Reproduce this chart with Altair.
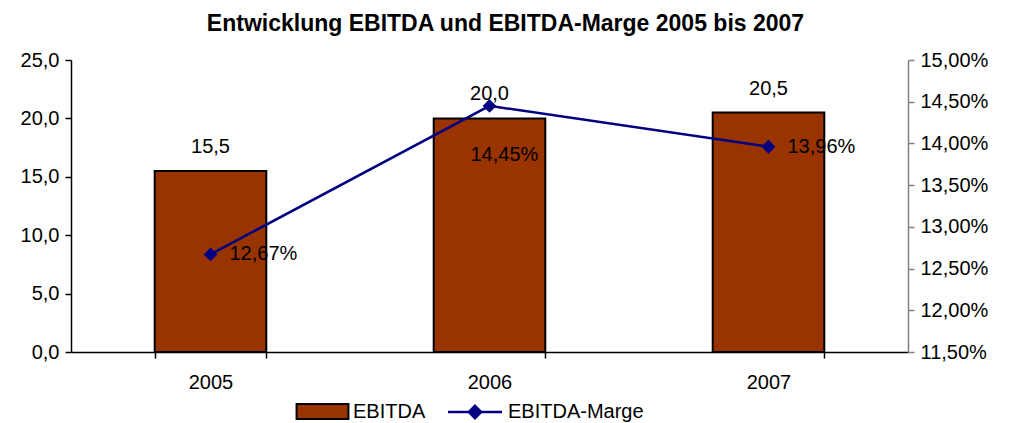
import altair as alt
import pandas as pd

years = ["2005", "2006", "2007"]
ebitda = [15.5, 20.0, 20.5]
marge = [12.67, 14.45, 13.96]
left_ticks = [0, 5, 10, 15, 20, 25]
right_ticks = [11.5, 12.0, 12.5, 13.0, 13.5, 14.0, 14.5, 15.0]

df = pd.DataFrame({"Jahr": years, "EBITDA": ebitda, "Marge": marge,
                   "s1": ["EBITDA"] * 3, "s2": ["EBITDA-Marge"] * 3})

FONT = "Liberation Sans"
FS = 20

x = alt.X("Jahr:N", title=None,
          scale=alt.Scale(paddingInner=0.6, paddingOuter=0.3),
          axis=alt.Axis(labelAngle=0, tickBand="extent", labelFontSize=FS, labelFont=FONT,
                        labelColor="black", domainColor="black", tickColor="black",
                        tickSize=6, labelPadding=14))

yl = alt.Y("EBITDA:Q", title=None,
           scale=alt.Scale(domain=[0, 25], nice=False, zero=True),
           axis=alt.Axis(values=left_ticks, grid=False, labelFontSize=FS, labelFont=FONT,
                         labelColor="black", domainColor="black", tickColor="black",
                         tickSize=6, labelPadding=6,
                         labelExpr="replace(format(datum.value, '.1f'), '.', ',')"))

yr = alt.Y("Marge:Q", title=None,
           scale=alt.Scale(domain=[11.5, 15], nice=False, zero=False),
           axis=alt.Axis(orient="right", values=right_ticks, grid=False, labelFontSize=FS,
                         labelFont=FONT, labelColor="black", domainColor="#808080",
                         tickColor="#808080", tickSize=6, labelPadding=6,
                         labelExpr="replace(format(datum.value, '.2f'), '.', ',') + '%'"))

base = alt.Chart(df)

bars = base.mark_bar(stroke="black", strokeWidth=2).encode(
    x=x, y=yl,
    fill=alt.Fill("s1:N", scale=alt.Scale(domain=["EBITDA"], range=["#993300"]),
                  legend=alt.Legend(title=None, orient="none", legendX=235, legendY=335,
                                    symbolType="M-1.7,-0.5H1.7V0.5H-1.7Z", symbolSize=930,
                                    symbolStrokeColor="black", symbolStrokeWidth=2,
                                    labelFontSize=FS, labelFont=FONT, labelColor="black",
                                    labelOffset=14)))

bar_text = base.transform_calculate(
    lbl="replace(format(datum.EBITDA, '.1f'), '.', ',')"
).mark_text(fontSize=FS, font=FONT, color="black", dy=-24, baseline="middle").encode(
    x=x, y=yl, text="lbl:N")

left = alt.layer(bars, bar_text)

line = base.mark_line(strokeWidth=2.5).encode(
    x=x, y=yr,
    stroke=alt.Stroke("s2:N", scale=alt.Scale(domain=["EBITDA-Marge"], range=["#000080"]),
                      legend=alt.Legend(title=None, orient="none", legendX=387, legendY=335,
                                        symbolType="M-1.75,0H1.75M0,-0.4L0.4,0L0,0.4L-0.4,0Z",
                                        symbolSize=950, symbolFillColor="#000080",
                                        symbolStrokeWidth=2.5,
                                        labelFontSize=FS, labelFont=FONT, labelColor="black",
                                        labelOffset=16)))

points = base.mark_point(shape="diamond", filled=True, size=190, color="#000080", opacity=1).encode(
    x=x, y=yr)

pct = base.transform_calculate(
    lbl="replace(format(datum.Marge, '.2f'), '.', ',') + '%'"
)
pct_a = pct.transform_filter("datum.Jahr != '2006'").mark_text(
    fontSize=FS, font=FONT, color="black", align="left", baseline="middle", dx=19
).encode(x=x, y=yr, text="lbl:N")
pct_b = pct.transform_filter("datum.Jahr == '2006'").mark_text(
    fontSize=FS, font=FONT, color="black", align="left", baseline="middle", dx=-19, dy=49
).encode(x=x, y=yr, text="lbl:N")

right = alt.layer(line, points, pct_a, pct_b)

chart = alt.layer(left, right).resolve_scale(y="independent", fill="independent",
                                             stroke="independent").properties(
    width=837, height=292,
    autosize=alt.AutoSizeParams(type="none"),
    padding={"left": 63, "top": 52, "right": 88, "bottom": 71},
    title=alt.TitleParams("Entwicklung EBITDA und EBITDA-Marge 2005 bis 2007",
                          fontSize=23, fontWeight="bold", font=FONT, color="black",
                          anchor="middle", dx=16, offset=14),
).configure_view(stroke=None).configure_axis(domainWidth=1.5, tickWidth=1.5)

chart.save("out.html", embed_options={"renderer": "svg", "actions": False})
